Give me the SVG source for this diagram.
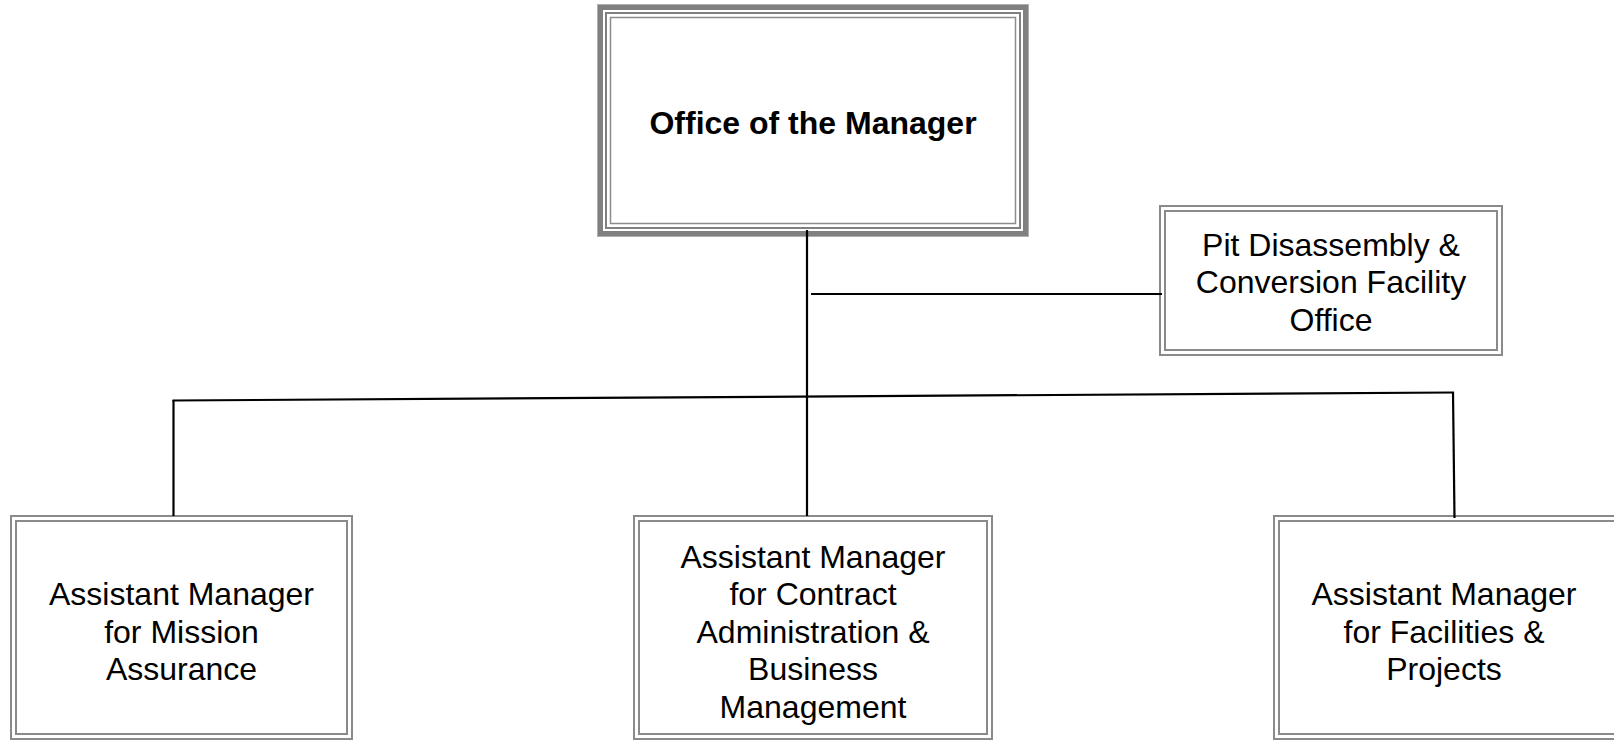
<svg xmlns="http://www.w3.org/2000/svg" width="1614" height="741" viewBox="0 0 1614 741">
<style>
  .t { font-family: "Liberation Sans", Arial, sans-serif; font-size: 32px; fill: #000; text-anchor: middle; }
  .b { font-weight: bold; }
  .dbl { fill: none; stroke: #8a8a8a; stroke-width: 2; }
  .fillw { fill: #fff; }
  .conn { stroke: #000; stroke-width: 2.2; fill: none; stroke-linecap: butt; }
</style>
<rect x="0" y="0" width="1614" height="741" fill="#fff"/>
<g id="node-office-manager">
  <rect class="fillw" x="597.5" y="4.5" width="431" height="232" stroke="#b0b0b0" stroke-width="1"/>
  <rect x="600.5" y="7.5" width="425" height="226" fill="none" stroke="#808080" stroke-width="5"/>
  <rect x="606" y="13" width="414" height="215" fill="none" stroke="#808080" stroke-width="2"/>
  <rect x="610.5" y="17.5" width="405" height="206" fill="none" stroke="#8c8c8c" stroke-width="1.5"/>
  <text class="t b" x="813" y="134">Office of the Manager</text>
</g>
<g id="node-pdcf">
  <rect class="fillw" x="1160" y="206" width="342" height="149"/>
  <rect class="dbl" x="1160" y="206" width="342" height="149"/>
  <rect class="dbl" x="1165" y="211" width="332" height="139"/>
  <text class="t" x="1331" y="255.5">Pit Disassembly &amp;</text>
  <text class="t" x="1331" y="293">Conversion Facility</text>
  <text class="t" x="1331" y="330.5">Office</text>
</g>
<g id="node-mission-assurance">
  <rect class="fillw" x="11" y="516" width="341" height="223"/>
  <rect class="dbl" x="11" y="516" width="341" height="223"/>
  <rect class="dbl" x="16" y="521" width="331" height="213"/>
  <text class="t" x="181.5" y="605">Assistant Manager</text>
  <text class="t" x="181.5" y="642.5">for Mission</text>
  <text class="t" x="181.5" y="680">Assurance</text>
</g>
<g id="node-contract-admin">
  <rect class="fillw" x="634" y="516" width="358" height="223"/>
  <rect class="dbl" x="634" y="516" width="358" height="223"/>
  <rect class="dbl" x="639" y="521" width="348" height="213"/>
  <text class="t" x="813" y="567.5">Assistant Manager</text>
  <text class="t" x="813" y="605">for Contract</text>
  <text class="t" x="813" y="642.5">Administration &amp;</text>
  <text class="t" x="813" y="680">Business</text>
  <text class="t" x="813" y="717.5">Management</text>
</g>
<g id="node-facilities">
  <rect class="fillw" x="1274" y="516" width="360" height="223"/>
  <rect class="dbl" x="1274" y="516" width="360" height="223"/>
  <rect class="dbl" x="1279" y="521" width="350" height="213"/>
  <text class="t" x="1444" y="605">Assistant Manager</text>
  <text class="t" x="1444" y="642.5">for Facilities &amp;</text>
  <text class="t" x="1444" y="680">Projects</text>
</g>
<g id="connectors">
  <line class="conn" x1="807" y1="230" x2="807" y2="516"/>
  <line class="conn" x1="811" y1="294" x2="1162" y2="294"/>
  <line class="conn" x1="172.5" y1="400.5" x2="1454" y2="392.5"/>
  <line class="conn" x1="173.5" y1="400" x2="173.5" y2="516"/>
  <line class="conn" x1="1453" y1="392" x2="1454.5" y2="518"/>
</g>
</svg>
